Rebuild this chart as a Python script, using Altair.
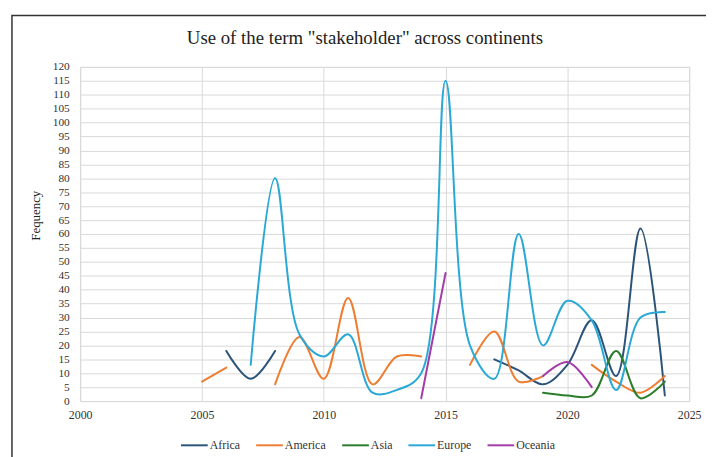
import altair as alt
import pandas as pd

years = list(range(2005, 2025))
africa = [None, 18, 8, 18, None, None, None, None, None, None, None, None, 15, 11, 6, 13, 29, 9, 62, 2]
america = [7, 12, None, 6, 23, 8, 37, 6, 16, 16, None, 13, 25, 7, 9, None, 13, 7, 3, 9]
asia = [None] * 14 + [3, 2, 2, 18, 1, 7]
europe = [None, None, 13, 80, 24, 16, 24, 3, 4, 10, 115, 20, 8, 60, 20, 36, 29, 4, 30, 32]
oceania = [None] * 9 + [1, 46, None, None, None, 9, 14, 5, None, None, None]

names = ["Africa", "America", "Asia", "Europe", "Oceania"]
colors = ["#2c5479", "#ed7d31", "#2a7d2a", "#2aa8d6", "#a33ca6"]
x_ticks = [2000, 2005, 2010, 2015, 2020, 2025]
y_ticks = list(range(0, 121, 5))
title_text = 'Use of the term "stakeholder" across continents'

rows = []
for name, vals in zip(names, [africa, america, asia, europe, oceania]):
    seg = 0
    prev_none = True
    for yr, v in zip(years, vals):
        if v is None:
            prev_none = True
            continue
        if prev_none:
            seg += 1
            prev_none = False
        rows.append({"year": yr, "value": v, "continent": name, "seg": f"{name}-{seg}"})
df = pd.DataFrame(rows)

SERIF = "Liberation Serif"

lines = alt.Chart(df).mark_line(
    interpolate="catmull-rom", strokeWidth=2, strokeCap="round", strokeJoin="round"
).encode(
    x=alt.X("year:Q", scale=alt.Scale(domain=[2000, 2025], nice=False, zero=False),
            axis=alt.Axis(values=x_ticks, format="d", title=None, labelPadding=9,
                          labelFont=SERIF, labelFontSize=12, labelFlush=False)),
    y=alt.Y("value:Q", scale=alt.Scale(domain=[0, 120], nice=False),
            axis=alt.Axis(values=y_ticks, title="Fequency", labelPadding=11,
                          labelFont=SERIF, labelFontSize=11.5, labelFlush=False,
                          titleFont=SERIF, titleFontSize=13,
                          titleFontWeight="normal", titleColor="#222",
                          titleX=-45, titleY=150, titleAngle=270,
                          titleAlign="center", titleBaseline="middle")),
    color=alt.Color("continent:N", scale=alt.Scale(domain=names, range=colors),
                    legend=alt.Legend(title=None, orient="none", legendX=101, legendY=368,
                                      direction="horizontal", symbolType="stroke",
                                      symbolSize=729, symbolStrokeWidth=2,
                                      labelFont=SERIF, labelFontSize=12,
                                      labelColor="#333", labelOffset=1,
                                      columnPadding=12, padding=0)),
    detail="seg:N",
    order="year:Q",
)

deco = pd.DataFrame({"label": [title_text]})

frame = alt.Chart(deco).mark_rect(
    fillOpacity=0, stroke="#333333", strokeWidth=1.5
).encode(x=alt.value(-69), x2=alt.value(700), y=alt.value(-52), y2=alt.value(500))

title = alt.Chart(deco).mark_text(
    font=SERIF, fontSize=19, color="#222", align="center", baseline="alphabetic"
).encode(x=alt.value(288), y=alt.value(-23), text="label:N")

chart = alt.layer(frame, title, lines).properties(
    width=616, height=338,
    autosize=alt.AutoSizeParams(type="none"),
    padding={"left": 73, "top": 57, "right": 17, "bottom": 54},
).configure_axis(
    labelFont=SERIF, labelColor="#333", ticks=False, domain=False,
    gridColor="#d9d9d9", gridWidth=1,
).configure_view(stroke="#d9d9d9")

chart.save("out.html", embed_options={"renderer": "svg", "actions": False})
